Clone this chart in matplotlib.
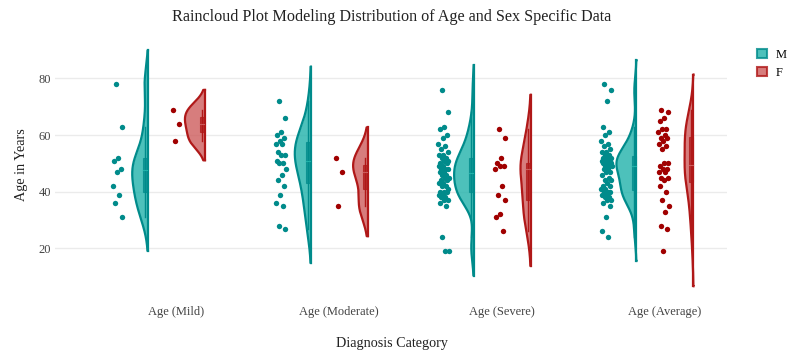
import numpy as np
import matplotlib
matplotlib.use('Agg')
import matplotlib.pyplot as plt
from matplotlib.patches import Patch, Rectangle

# ages
categories = ['Age (Mild)', 'Age (Moderate)', 'Age (Severe)', 'Age (Average)']
sexes = ['M', 'F']

mild_m = [78, 63, 52, 51, 48, 47, 42, 39, 36, 31]
mild_f = [69, 64, 58]
moderate_m = [72, 66, 61, 60, 59, 58, 57, 57, 54, 53, 53, 51, 50, 50, 48, 46,
              44, 42, 39, 36, 35, 28, 27]
moderate_f = [52, 47, 35]
severe_m = [76, 68, 63, 62, 60, 59, 57, 56, 55, 54, 53, 53, 52, 52, 51, 51, 50,
            50, 49, 49, 48, 48, 48, 47, 47, 46, 46, 45, 45, 44, 44, 43, 43, 42,
            42, 41, 40, 40, 40, 39, 39, 38, 38, 37, 37, 36, 35, 24, 19, 19]
severe_f = [62, 59, 52, 50, 49, 49, 48, 42, 39, 37, 32, 31, 26]
average_m = [78, 76, 72, 63, 61, 60, 58, 57, 56,
             55, 54, 54, 53, 53, 52, 52, 52, 51, 51, 51, 51, 50, 50, 50, 50,
             49, 49, 49, 48, 48,
             47, 47, 46, 45, 44, 44, 43,
             42, 42, 41, 41, 40, 40, 40, 39, 39, 38, 38, 37, 37, 36, 35,
             31, 26, 24]
average_f = [69, 68, 66, 65, 62, 62, 61, 60, 59, 59, 58, 57, 56, 55, 50, 50, 49,
             48, 48, 47, 47, 45, 45, 44, 42, 40, 37, 35, 33, 28, 27, 19]

data = {
    'M': [mild_m, moderate_m, severe_m, average_m],
    'F': [mild_f, moderate_f, severe_f, average_f],
}

line_col = {'M': '#008B8B', 'F': '#B01818'}
fill_col = {'M': '#20B2AA', 'F': '#CD5C5C'}
dot_col = {'M': '#008B8B', 'F': '#A00000'}
offset = {'M': -0.175, 'F': 0.175}

plt.rcParams['font.family'] = ['Liberation Serif', 'DejaVu Serif']


def kde(vals):
    v = np.asarray(vals, dtype=float)
    n = len(v)
    q1, q3 = np.percentile(v, [25, 75])
    bw = 1.059 * min(v.std(ddof=1), (q3 - q1) / 1.349) * n ** -0.2
    ys = np.linspace(v.min() - 2 * bw, v.max() + 2 * bw, 300)
    d = np.exp(-0.5 * ((ys[:, None] - v[None, :]) / bw) ** 2).sum(axis=1)
    d = d / (n * bw * np.sqrt(2 * np.pi))
    return ys, d


fig = plt.figure(figsize=(7.91, 3.61), dpi=100)
ax = fig.add_axes([55 / 791, 1 - 296.5 / 361, 672 / 791, 252.1 / 361])

half_w = 0.123
for sex in sexes:
    curves = [kde(v) for v in data[sex]]
    dmax = max(c[1].max() for c in curves)
    for i, vals in enumerate(data[sex]):
        s = i + offset[sex]
        ys, d = curves[i]
        ax.fill_betweenx(ys, s - half_w * d / dmax, s, facecolor=fill_col[sex],
                         edgecolor=line_col[sex], alpha=0.8, lw=0, zorder=2)
        ax.plot(np.r_[s, s - half_w * d / dmax, s], np.r_[ys[0], ys, ys[-1]],
                color=line_col[sex], lw=1.6, zorder=3)
        ax.plot([s, s], [ys[0], ys[-1]], color=line_col[sex], lw=1.6, zorder=3)

        # box
        v = np.asarray(vals, dtype=float)
        q1, med, q3 = np.percentile(v, [25, 50, 75])
        iqr = q3 - q1
        lo = v[v >= q1 - 1.5 * iqr].min()
        hi = v[v <= q3 + 1.5 * iqr].max()
        ax.plot([s - 0.016, s - 0.016], [lo, hi], color=line_col[sex], lw=1.0,
                zorder=4)
        ax.add_patch(Rectangle((s - 0.03, q1), 0.027, q3 - q1,
                               facecolor=line_col[sex], edgecolor=line_col[sex],
                               alpha=0.75, lw=0.8, zorder=4))
        ax.plot([s - 0.03, s - 0.003], [med, med], color=fill_col[sex], lw=0.8,
                zorder=5)

        # rain points
        k = np.arange(len(v))
        jit = ((k * 0.61803 + 0.3) % 1 - 0.5) * 0.065
        ax.scatter(s - 0.184 + jit, v, s=15, color=dot_col[sex], lw=0, zorder=4)

ax.set_xlim(-0.746, 3.381)
ax.set_ylim(3, 92)
ax.set_xticks(range(len(categories)))
ax.set_xticklabels(categories)
ax.set_yticks([20, 40, 60, 80])
ax.grid(axis='y', color='#ebebeb', lw=1)
ax.set_axisbelow(True)
for sp in ax.spines.values():
    sp.set_visible(False)
ax.tick_params(length=0, labelsize=9, colors='#444444')
ax.tick_params(axis='x', pad=7)
ax.tick_params(axis='y', pad=3)

fig.text(392 / 791, 1 - 17 / 361, 'Raincloud Plot Modeling Distribution of Age and Sex Specific Data',
         ha='center', va='center', fontsize=11.6, color='#222222')
fig.text(392 / 791, 1 - 344 / 361, 'Diagnosis Category', ha='center', va='center',
         fontsize=10.2, color='#222222')
fig.text(22 / 791, 1 - 165 / 361, 'Age in Years', ha='center', va='center',
         rotation=90, fontsize=10.2, color='#222222')

handles = [Patch(facecolor=fill_col[s], edgecolor=line_col[s], alpha=0.8, lw=1.5, label=s)
           for s in sexes]
fig.legend(handles=handles, loc='upper left', bbox_to_anchor=(746 / 791, 1 - 38 / 361),
           frameon=False, handlelength=0.75, handleheight=0.75, handletextpad=0.7,
           labelspacing=0.45, fontsize=9)

fig.savefig('out.png', dpi=100)
